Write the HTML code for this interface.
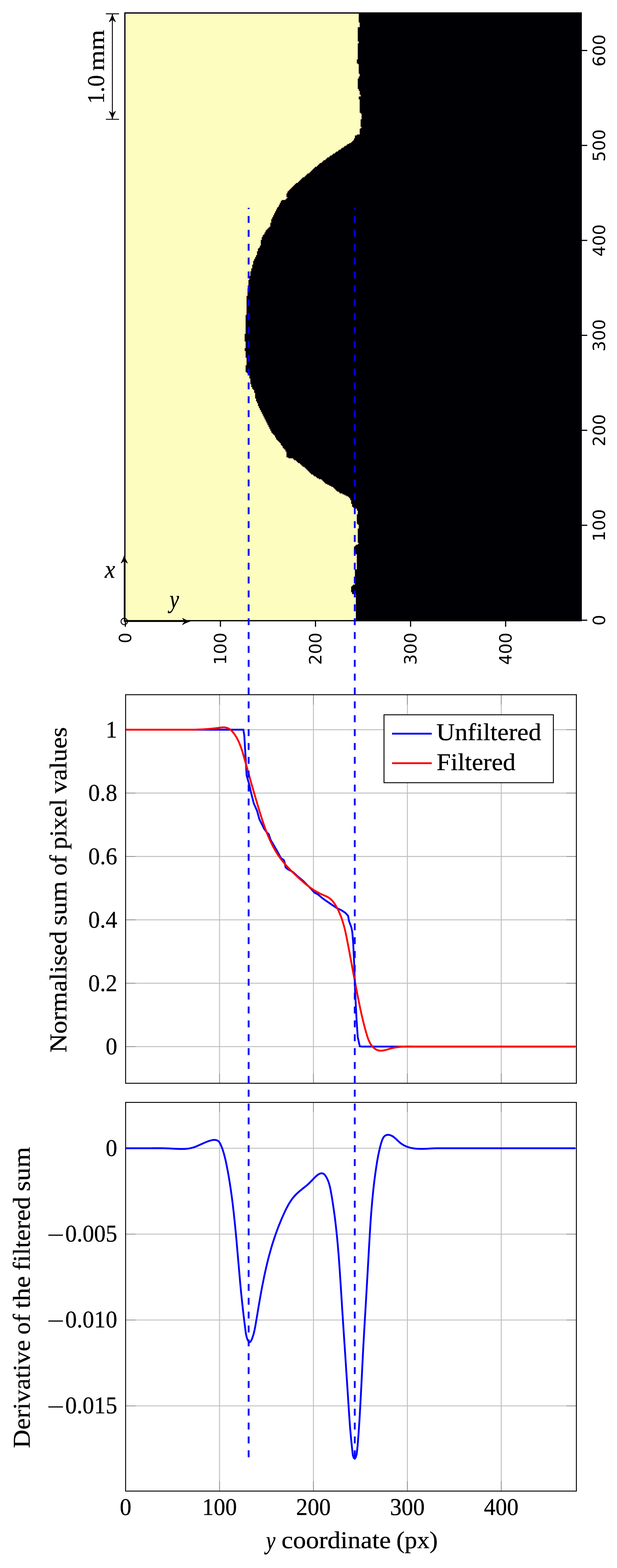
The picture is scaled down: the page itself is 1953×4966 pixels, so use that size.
<!DOCTYPE html>
<html lang="en"><head><meta charset="utf-8"><title>Figure</title>
<style>html,body{margin:0;padding:0;background:#fff}svg{display:block}.s{font-family:"Liberation Serif", serif;fill:#000;stroke:#000;stroke-width:0.55px;stroke-linejoin:round}.d{font-family:"DejaVu Sans", "Liberation Sans", sans-serif;fill:#000}</style></head><body>
<svg width="1953" height="4966" viewBox="0 0 1953 4966">
<rect width="1953" height="4966" fill="#fff"/>
<g id="image">
<rect x="395.3" y="41.1" width="1444.4" height="1924.7" fill="#fcfdbf"/>
<path d="M1839.7,41.1V41.1H1135.6V71.2H1138.6V86.2H1132.5V131.3H1135.6V137.3H1132.5V188.5H1129.5V200.5H1132.5V203.5H1135.6V233.6H1138.6V242.6H1135.6V248.6H1132.5V281.7H1135.6V287.7H1138.6V299.7H1141.6V305.7H1135.6V314.8H1138.6V356.9H1141.6V359.9H1144.6V377.9H1141.6V402.0H1144.6V405.0H1141.6V408.0H1138.6V426.0H1129.5V429.0H1123.5V438.1H1120.5V444.1H1117.5V447.1H1114.5V450.1H1111.5V453.1H1105.5V456.1H1099.4V459.1H1096.4V462.1H1090.4V465.1H1087.4V468.1H1081.4V471.2H1078.4V474.2H1072.4V477.2H1069.4V480.2H1063.3V483.2H1060.3V486.2H1054.3V489.2H1051.3V492.2H1045.3V495.2H1042.3V498.2H1036.3V501.2H1033.2V504.2H1030.2V507.2H1024.2V510.2H1021.2V513.3H1018.2V516.3H1012.2V519.3H1009.2V522.3H1006.2V525.3H1003.2V528.3H997.1V531.3H994.1V534.3H991.1V537.3H988.1V540.3H985.1V543.3H982.1V546.3H979.1V549.3H973.1V552.3H970.1V555.4H967.0V558.4H964.0V561.4H958.0V564.4H955.0V567.4H952.0V570.4H949.0V573.4H946.0V576.4H943.0V579.4H937.0V582.4H933.9V585.4H930.9V588.4H927.9V591.4H924.9V594.5H921.9V597.5H918.9V600.5H915.9V603.5H912.9V606.5H909.9V612.5H906.9V624.5H909.9V627.5H906.9V630.5H903.8V633.5H891.8V636.6H888.8V642.6H885.8V648.6H882.8V654.6H879.8V657.6H876.8V663.6H873.8V669.6H870.7V675.6H867.7V681.7H864.7V687.7H861.7V693.7H858.7V705.7H855.7V717.8H852.7V720.8H849.7V723.8H846.7V726.8H843.7V729.8H840.7V735.8H837.6V741.8H834.6V744.8H831.6V750.8H828.6V759.9H825.6V777.9H822.6V783.9H819.6V786.9H816.6V795.9H813.6V808.0H810.6V814.0H807.6V820.0H804.5V826.0H801.5V838.0H798.5V850.1H795.5V859.1H792.5V874.1H789.5V886.2H786.5V913.2H783.5V937.3H780.5V997.4H777.5V1057.6H774.5V1081.6H777.5V1102.7H774.5V1111.7H777.5V1132.8H780.5V1156.8H777.5V1177.9H780.5V1180.9H783.5V1183.9H786.5V1186.9H789.5V1198.9H792.5V1217.0H795.5V1226.0H798.5V1232.0H801.5V1235.0H804.5V1244.0H807.6V1262.1H810.6V1271.1H813.6V1277.1H816.6V1286.1H819.6V1292.2H822.6V1298.2H825.6V1304.2H828.6V1310.2H831.6V1316.2H834.6V1322.2H837.6V1328.2H840.7V1334.3H843.7V1340.3H846.7V1346.3H849.7V1352.3H852.7V1358.3H855.7V1364.3H858.7V1370.3H861.7V1373.4H864.7V1376.4H867.7V1379.4H870.7V1385.4H873.8V1391.4H876.8V1394.4H879.8V1397.4H882.8V1400.4H885.8V1403.4H888.8V1409.4H891.8V1412.4H894.8V1418.5H897.8V1421.5H900.8V1424.5H903.8V1430.5H906.9V1448.5H912.9V1451.5H927.9V1454.6H930.9V1457.6H937.0V1460.6H940.0V1463.6H943.0V1466.6H949.0V1469.6H952.0V1472.6H955.0V1475.6H958.0V1478.6H964.0V1481.6H967.0V1484.6H970.1V1487.6H973.1V1490.6H976.1V1493.6H979.1V1496.7H982.1V1499.7H985.1V1502.7H991.1V1505.7H994.1V1508.7H1000.1V1511.7H1003.2V1514.7H1009.2V1517.7H1018.2V1520.7H1021.2V1523.7H1024.2V1526.7H1027.2V1529.7H1030.2V1532.7H1036.3V1535.7H1042.3V1538.8H1048.3V1541.8H1054.3V1544.8H1057.3V1547.8H1060.3V1550.8H1063.3V1553.8H1066.3V1556.8H1072.4V1559.8H1075.4V1562.8H1084.4V1565.8H1090.4V1568.8H1096.4V1571.8H1102.5V1574.8H1105.5V1577.9H1108.5V1583.9H1111.5V1595.9H1114.5V1604.9H1117.5V1607.9H1123.5V1610.9H1129.5V1616.9H1132.5V1629.0H1129.5V1659.1H1132.5V1662.1H1135.6V1674.1H1132.5V1719.2H1135.6V1722.2H1132.5V1725.2H1126.5V1728.2H1123.5V1731.2H1120.5V1746.3H1123.5V1752.3H1126.5V1755.3H1129.5V1803.4H1123.5V1851.5H1117.5V1854.5H1114.5V1857.5H1111.5V1875.6H1114.5V1881.6H1126.5V1965.8H1839.7Z" fill="#000004" stroke="#b73779" stroke-width="0.7" stroke-opacity="0.55"/>
<rect x="395.3" y="41.1" width="1444.4" height="1924.7" fill="none" stroke="#000" stroke-width="4"/>
<line x1="396.8" y1="1965.8" x2="396.8" y2="1985.0" stroke="#000" stroke-width="3.7"/>
<text class="d" font-size="53.5" text-anchor="end" transform="translate(415.4,2003.5) rotate(-90)">0</text>
<line x1="697.7" y1="1965.8" x2="697.7" y2="1985.0" stroke="#000" stroke-width="3.7"/>
<text class="d" font-size="53.5" text-anchor="end" transform="translate(716.3,2003.5) rotate(-90)">100</text>
<line x1="998.6" y1="1965.8" x2="998.6" y2="1985.0" stroke="#000" stroke-width="3.7"/>
<text class="d" font-size="53.5" text-anchor="end" transform="translate(1017.2,2003.5) rotate(-90)">200</text>
<line x1="1299.6" y1="1965.8" x2="1299.6" y2="1985.0" stroke="#000" stroke-width="3.7"/>
<text class="d" font-size="53.5" text-anchor="end" transform="translate(1318.2,2003.5) rotate(-90)">300</text>
<line x1="1600.5" y1="1965.8" x2="1600.5" y2="1985.0" stroke="#000" stroke-width="3.7"/>
<text class="d" font-size="53.5" text-anchor="end" transform="translate(1619.1,2003.5) rotate(-90)">400</text>
<line x1="1839.7" y1="1964.3" x2="1858.9" y2="1964.3" stroke="#000" stroke-width="3.7"/>
<text class="d" font-size="53.5" text-anchor="middle" transform="translate(1915.0,1964.3) rotate(-90)">0</text>
<line x1="1839.7" y1="1663.6" x2="1858.9" y2="1663.6" stroke="#000" stroke-width="3.7"/>
<text class="d" font-size="53.5" text-anchor="middle" transform="translate(1915.0,1663.6) rotate(-90)">100</text>
<line x1="1839.7" y1="1362.8" x2="1858.9" y2="1362.8" stroke="#000" stroke-width="3.7"/>
<text class="d" font-size="53.5" text-anchor="middle" transform="translate(1915.0,1362.8) rotate(-90)">200</text>
<line x1="1839.7" y1="1062.1" x2="1858.9" y2="1062.1" stroke="#000" stroke-width="3.7"/>
<text class="d" font-size="53.5" text-anchor="middle" transform="translate(1915.0,1062.1) rotate(-90)">300</text>
<line x1="1839.7" y1="761.4" x2="1858.9" y2="761.4" stroke="#000" stroke-width="3.7"/>
<text class="d" font-size="53.5" text-anchor="middle" transform="translate(1915.0,761.4) rotate(-90)">400</text>
<line x1="1839.7" y1="460.6" x2="1858.9" y2="460.6" stroke="#000" stroke-width="3.7"/>
<text class="d" font-size="53.5" text-anchor="middle" transform="translate(1915.0,460.6) rotate(-90)">500</text>
<line x1="1839.7" y1="159.9" x2="1858.9" y2="159.9" stroke="#000" stroke-width="3.7"/>
<text class="d" font-size="53.5" text-anchor="middle" transform="translate(1915.0,159.9) rotate(-90)">600</text>
</g>
<g id="axes-arrows" stroke="#000" fill="none" stroke-width="2.9">
<line x1="393.3" y1="1968.2" x2="393.3" y2="1770"/>
<line x1="393.3" y1="1968.2" x2="590" y2="1968.2"/>
<circle cx="393.3" cy="1968.2" r="10.2"/>
</g>
<path transform="translate(393.3,1758.5) rotate(-90)" fill="#000" stroke="#000" stroke-width="2.40" stroke-linejoin="round" d="M-2.20,0.00 C-9.50,-1.90 -17.00,-5.20 -24.30,-9.50 Q-19.60,-4.80 -17.60,0.00 Q-19.60,4.80 -24.30,9.50 C-17.00,5.20 -9.50,1.90 -2.20,0.00Z"/>
<path transform="translate(602.5,1968.2) rotate(0)" fill="#000" stroke="#000" stroke-width="2.40" stroke-linejoin="round" d="M-2.20,0.00 C-9.50,-1.90 -17.00,-5.20 -24.30,-9.50 Q-19.60,-4.80 -17.60,0.00 Q-19.60,4.80 -24.30,9.50 C-17.00,5.20 -9.50,1.90 -2.20,0.00Z"/>
<text class="s" font-style="italic" font-size="80" x="331.8" y="1830" textLength="32.6" lengthAdjust="spacingAndGlyphs">x</text>
<text class="s" font-style="italic" font-size="80" x="536.7" y="1924.5" textLength="29.8" lengthAdjust="spacingAndGlyphs">y</text>
<g id="scalebar" stroke="#000" fill="none" stroke-width="2.9">
<line x1="335.1" y1="43.7" x2="376.8" y2="43.7"/>
<line x1="335.1" y1="377.9" x2="376.8" y2="377.9"/>
<line x1="355.7" y1="43.7" x2="355.7" y2="377.9"/>
</g>
<path transform="translate(355.7,44.3) rotate(-90)" fill="#000" stroke="#000" stroke-width="2.40" stroke-linejoin="round" d="M-2.20,0.00 C-9.50,-1.90 -17.00,-5.20 -24.30,-9.50 Q-19.60,-4.80 -17.60,0.00 Q-19.60,4.80 -24.30,9.50 C-17.00,5.20 -9.50,1.90 -2.20,0.00Z"/>
<path transform="translate(355.7,377.3) rotate(90)" fill="#000" stroke="#000" stroke-width="2.40" stroke-linejoin="round" d="M-2.20,0.00 C-9.50,-1.90 -17.00,-5.20 -24.30,-9.50 Q-19.60,-4.80 -17.60,0.00 Q-19.60,4.80 -24.30,9.50 C-17.00,5.20 -9.50,1.90 -2.20,0.00Z"/>
<text class="s" font-size="76.5" transform="translate(328.5,329) rotate(-90)"><tspan x="0" textLength="91.2" lengthAdjust="spacingAndGlyphs">1.0</tspan> <tspan x="104.4" font-size="72.5" textLength="130" lengthAdjust="spacingAndGlyphs">mm</tspan></text>
<g stroke-width="2.9">
<line x1="694.9" y1="2200.2" x2="694.9" y2="3430.8" stroke="#bfbfbf"/>
<line x1="992.1" y1="2200.2" x2="992.1" y2="3430.8" stroke="#bfbfbf"/>
<line x1="1289.4" y1="2200.2" x2="1289.4" y2="3430.8" stroke="#bfbfbf"/>
<line x1="1586.6" y1="2200.2" x2="1586.6" y2="3430.8" stroke="#bfbfbf"/>
<line x1="397.6" y1="2311.0" x2="1824.4" y2="2311.0" stroke="#bfbfbf"/>
<line x1="397.6" y1="2511.7" x2="1824.4" y2="2511.7" stroke="#bfbfbf"/>
<line x1="397.6" y1="2712.5" x2="1824.4" y2="2712.5" stroke="#bfbfbf"/>
<line x1="397.6" y1="2913.2" x2="1824.4" y2="2913.2" stroke="#bfbfbf"/>
<line x1="397.6" y1="3114.0" x2="1824.4" y2="3114.0" stroke="#bfbfbf"/>
<line x1="397.6" y1="3314.7" x2="1824.4" y2="3314.7" stroke="#bfbfbf"/>
<line x1="694.9" y1="3430.8" x2="694.9" y2="3399.6000000000004" stroke="#808080" stroke-width="1.7"/>
<line x1="694.9" y1="2200.2" x2="694.9" y2="2231.3999999999996" stroke="#808080" stroke-width="1.7"/>
<line x1="992.1" y1="3430.8" x2="992.1" y2="3399.6000000000004" stroke="#808080" stroke-width="1.7"/>
<line x1="992.1" y1="2200.2" x2="992.1" y2="2231.3999999999996" stroke="#808080" stroke-width="1.7"/>
<line x1="1289.4" y1="3430.8" x2="1289.4" y2="3399.6000000000004" stroke="#808080" stroke-width="1.7"/>
<line x1="1289.4" y1="2200.2" x2="1289.4" y2="2231.3999999999996" stroke="#808080" stroke-width="1.7"/>
<line x1="1586.6" y1="3430.8" x2="1586.6" y2="3399.6000000000004" stroke="#808080" stroke-width="1.7"/>
<line x1="1586.6" y1="2200.2" x2="1586.6" y2="2231.3999999999996" stroke="#808080" stroke-width="1.7"/>
<line x1="397.6" y1="2311.0" x2="428.8" y2="2311.0" stroke="#808080" stroke-width="1.7"/>
<line x1="1824.4" y1="2311.0" x2="1793.2" y2="2311.0" stroke="#808080" stroke-width="1.7"/>
<line x1="397.6" y1="2511.7" x2="428.8" y2="2511.7" stroke="#808080" stroke-width="1.7"/>
<line x1="1824.4" y1="2511.7" x2="1793.2" y2="2511.7" stroke="#808080" stroke-width="1.7"/>
<line x1="397.6" y1="2712.5" x2="428.8" y2="2712.5" stroke="#808080" stroke-width="1.7"/>
<line x1="1824.4" y1="2712.5" x2="1793.2" y2="2712.5" stroke="#808080" stroke-width="1.7"/>
<line x1="397.6" y1="2913.2" x2="428.8" y2="2913.2" stroke="#808080" stroke-width="1.7"/>
<line x1="1824.4" y1="2913.2" x2="1793.2" y2="2913.2" stroke="#808080" stroke-width="1.7"/>
<line x1="397.6" y1="3114.0" x2="428.8" y2="3114.0" stroke="#808080" stroke-width="1.7"/>
<line x1="1824.4" y1="3114.0" x2="1793.2" y2="3114.0" stroke="#808080" stroke-width="1.7"/>
<line x1="397.6" y1="3314.7" x2="428.8" y2="3314.7" stroke="#808080" stroke-width="1.7"/>
<line x1="1824.4" y1="3314.7" x2="1793.2" y2="3314.7" stroke="#808080" stroke-width="1.7"/>
</g>
<path d="M397.5,2311.0 L770.3,2311.0 L773.2,2328.5 L777.7,2404.0 L780.6,2455.8 L789.5,2487.0 L794.0,2507.6 L803.3,2544.4 L813.7,2568.0 L821.0,2594.8 L835.9,2624.4 L844.2,2636.0 L850.7,2642.0 L856.6,2660.0 L877.3,2695.4 L889.2,2717.6 L898.0,2723.6 L901.0,2731.0 L904.0,2747.0 L911.4,2753.0 L927.7,2762.0 L945.4,2778.3 L959.6,2790.0 L983.3,2813.7 L995.0,2827.0 L1007.0,2833.0 L1018.8,2843.3 L1030.7,2852.0 L1048.4,2864.0 L1066.2,2875.9 L1081.0,2883.0 L1092.9,2890.7 L1101.8,2900.4 L1104.7,2917.0 L1112.0,2936.6 L1115.0,2951.0 L1118.0,2987.0 L1121.0,3050.0 L1124.0,3138.8 L1128.5,3227.7 L1132.3,3284.0 L1138.8,3313.7 L1145.0,3314.7 L1821.5,3314.7" fill="none" stroke="#0000ff" stroke-width="5.8" stroke-linejoin="miter" stroke-miterlimit="10"/>
<path d="M397.6,2311.0 L400.6,2311.0 L403.5,2311.0 L406.5,2311.0 L409.5,2311.0 L412.5,2311.0 L415.4,2311.0 L418.4,2311.0 L421.4,2311.0 L424.4,2311.0 L427.3,2311.0 L430.3,2311.0 L433.3,2311.0 L436.2,2311.0 L439.2,2311.0 L442.2,2311.0 L445.2,2311.0 L448.1,2311.0 L451.1,2311.0 L454.1,2311.0 L457.1,2311.0 L460.0,2311.0 L463.0,2311.0 L466.0,2311.0 L468.9,2311.0 L471.9,2311.0 L474.9,2311.0 L477.9,2311.0 L480.8,2311.0 L483.8,2311.0 L486.8,2311.0 L489.7,2311.0 L492.7,2311.0 L495.7,2311.0 L498.7,2311.0 L501.6,2311.0 L504.6,2311.0 L507.6,2311.0 L510.6,2311.0 L513.5,2311.0 L516.5,2311.0 L519.5,2311.0 L522.4,2311.0 L525.4,2311.0 L528.4,2311.0 L531.4,2311.0 L534.3,2311.0 L537.3,2311.0 L540.3,2311.0 L543.3,2311.0 L546.2,2311.0 L549.2,2311.0 L552.2,2311.0 L555.1,2311.0 L558.1,2311.0 L561.1,2311.0 L564.1,2311.0 L567.0,2311.0 L570.0,2311.0 L573.0,2311.0 L576.0,2311.0 L578.9,2311.0 L581.9,2311.0 L584.9,2311.0 L587.8,2311.0 L590.8,2311.0 L593.8,2311.0 L596.8,2311.0 L599.7,2311.0 L602.7,2311.0 L605.7,2311.0 L608.6,2310.9 L611.6,2310.9 L614.6,2310.8 L617.6,2310.8 L620.5,2310.7 L623.5,2310.6 L626.5,2310.5 L629.5,2310.4 L632.4,2310.2 L635.4,2310.1 L638.4,2310.0 L641.3,2309.8 L644.3,2309.7 L647.3,2309.5 L650.3,2309.3 L653.2,2309.1 L656.2,2308.9 L659.2,2308.7 L662.2,2308.5 L665.1,2308.2 L668.1,2307.9 L671.1,2307.6 L674.0,2307.3 L677.0,2307.0 L680.0,2306.7 L683.0,2306.3 L685.9,2305.9 L688.9,2305.6 L691.9,2305.1 L694.9,2304.7 L697.8,2304.3 L700.8,2304.0 L703.8,2303.8 L706.7,2303.6 L709.7,2303.7 L712.7,2303.9 L715.7,2304.5 L718.6,2305.2 L721.6,2306.4 L724.6,2307.8 L727.5,2309.6 L730.5,2311.9 L733.5,2314.7 L736.5,2317.9 L739.4,2321.6 L742.4,2325.7 L745.4,2330.2 L748.4,2335.0 L751.3,2340.4 L754.3,2346.3 L757.3,2352.8 L760.2,2360.1 L763.2,2368.1 L766.2,2377.0 L769.2,2386.7 L772.1,2397.1 L775.1,2407.7 L778.1,2418.4 L781.1,2429.1 L784.0,2439.8 L787.0,2450.4 L790.0,2461.0 L792.9,2471.5 L795.9,2482.1 L798.9,2492.5 L801.9,2502.9 L804.8,2513.2 L807.8,2523.4 L810.8,2533.5 L813.8,2543.5 L816.7,2553.5 L819.7,2563.3 L822.7,2573.0 L825.6,2582.6 L828.6,2591.9 L831.6,2601.1 L834.6,2609.9 L837.5,2618.4 L840.5,2626.7 L843.5,2634.5 L846.4,2642.1 L849.4,2649.3 L852.4,2656.2 L855.4,2662.8 L858.3,2669.1 L861.3,2675.2 L864.3,2680.9 L867.3,2686.5 L870.2,2691.7 L873.2,2696.8 L876.2,2701.6 L879.1,2706.3 L882.1,2710.7 L885.1,2715.0 L888.1,2719.1 L891.0,2723.0 L894.0,2726.8 L897.0,2730.5 L900.0,2734.0 L902.9,2737.5 L905.9,2740.9 L908.9,2744.2 L911.8,2747.4 L914.8,2750.5 L917.8,2753.6 L920.8,2756.7 L923.7,2759.7 L926.7,2762.6 L929.7,2765.5 L932.7,2768.4 L935.6,2771.2 L938.6,2774.0 L941.6,2776.8 L944.5,2779.6 L947.5,2782.3 L950.5,2785.0 L953.5,2787.7 L956.4,2790.4 L959.4,2793.0 L962.4,2795.5 L965.3,2798.0 L968.3,2800.5 L971.3,2802.9 L974.3,2805.3 L977.2,2807.5 L980.2,2809.8 L983.2,2811.9 L986.2,2814.1 L989.1,2816.1 L992.1,2818.1 L995.1,2820.0 L998.0,2821.8 L1001.0,2823.6 L1004.0,2825.3 L1007.0,2826.9 L1009.9,2828.5 L1012.9,2830.0 L1015.9,2831.4 L1018.9,2832.7 L1021.8,2834.0 L1024.8,2835.3 L1027.8,2836.6 L1030.7,2837.9 L1033.7,2839.3 L1036.7,2840.8 L1039.7,2842.5 L1042.6,2844.5 L1045.6,2846.8 L1048.6,2849.5 L1051.6,2852.5 L1054.5,2856.0 L1057.5,2859.9 L1060.5,2864.3 L1063.4,2869.2 L1066.4,2874.5 L1069.4,2880.1 L1072.4,2886.3 L1075.3,2893.0 L1078.3,2900.3 L1081.3,2908.3 L1084.2,2917.2 L1087.2,2927.0 L1090.2,2938.1 L1093.2,2950.4 L1096.1,2964.1 L1099.1,2979.0 L1102.1,2994.6 L1105.1,3010.4 L1108.0,3026.3 L1111.0,3042.2 L1114.0,3058.1 L1116.9,3073.9 L1119.9,3089.8 L1122.9,3105.5 L1125.9,3121.1 L1128.8,3136.7 L1131.8,3152.0 L1134.8,3167.1 L1137.8,3181.8 L1140.7,3196.0 L1143.7,3209.6 L1146.7,3222.6 L1149.6,3235.0 L1152.6,3246.8 L1155.6,3258.1 L1158.6,3268.8 L1161.5,3279.0 L1164.5,3288.1 L1167.5,3295.7 L1170.5,3302.0 L1173.4,3307.1 L1176.4,3311.4 L1179.4,3314.9 L1182.3,3317.9 L1185.3,3320.4 L1188.3,3322.5 L1191.3,3324.2 L1194.2,3325.6 L1197.2,3326.6 L1200.2,3327.3 L1203.1,3327.6 L1206.1,3327.7 L1209.1,3327.5 L1212.1,3327.1 L1215.0,3326.6 L1218.0,3326.0 L1221.0,3325.2 L1224.0,3324.4 L1226.9,3323.5 L1229.9,3322.7 L1232.9,3321.8 L1235.8,3321.0 L1238.8,3320.2 L1241.8,3319.5 L1244.8,3318.8 L1247.7,3318.2 L1250.7,3317.7 L1253.7,3317.2 L1256.7,3316.7 L1259.6,3316.3 L1262.6,3316.0 L1265.6,3315.6 L1268.5,3315.4 L1271.5,3315.2 L1274.5,3315.0 L1277.5,3314.8 L1280.4,3314.7 L1283.4,3314.6 L1286.4,3314.5 L1289.4,3314.5 L1292.3,3314.5 L1295.3,3314.5 L1298.3,3314.5 L1301.2,3314.5 L1304.2,3314.6 L1307.2,3314.6 L1310.2,3314.6 L1313.1,3314.6 L1316.1,3314.7 L1319.1,3314.7 L1322.0,3314.7 L1325.0,3314.7 L1328.0,3314.7 L1331.0,3314.7 L1333.9,3314.7 L1336.9,3314.7 L1339.9,3314.7 L1342.9,3314.7 L1345.8,3314.7 L1348.8,3314.7 L1351.8,3314.7 L1354.7,3314.7 L1357.7,3314.7 L1360.7,3314.7 L1363.7,3314.7 L1366.6,3314.7 L1369.6,3314.7 L1372.6,3314.7 L1375.6,3314.7 L1378.5,3314.7 L1381.5,3314.7 L1384.5,3314.7 L1387.4,3314.7 L1390.4,3314.7 L1393.4,3314.7 L1396.4,3314.7 L1399.3,3314.7 L1402.3,3314.7 L1405.3,3314.7 L1408.2,3314.7 L1411.2,3314.7 L1414.2,3314.7 L1417.2,3314.7 L1420.1,3314.7 L1423.1,3314.7 L1426.1,3314.7 L1429.1,3314.7 L1432.0,3314.7 L1435.0,3314.7 L1438.0,3314.7 L1440.9,3314.7 L1443.9,3314.7 L1446.9,3314.7 L1449.9,3314.7 L1452.8,3314.7 L1455.8,3314.7 L1458.8,3314.7 L1461.8,3314.7 L1464.7,3314.7 L1467.7,3314.7 L1470.7,3314.7 L1473.6,3314.7 L1476.6,3314.7 L1479.6,3314.7 L1482.6,3314.7 L1485.5,3314.7 L1488.5,3314.7 L1491.5,3314.7 L1494.5,3314.7 L1497.4,3314.7 L1500.4,3314.7 L1503.4,3314.7 L1506.3,3314.7 L1509.3,3314.7 L1512.3,3314.7 L1515.3,3314.7 L1518.2,3314.7 L1521.2,3314.7 L1524.2,3314.7 L1527.2,3314.7 L1530.1,3314.7 L1533.1,3314.7 L1536.1,3314.7 L1539.0,3314.7 L1542.0,3314.7 L1545.0,3314.7 L1548.0,3314.7 L1550.9,3314.7 L1553.9,3314.7 L1556.9,3314.7 L1559.8,3314.7 L1562.8,3314.7 L1565.8,3314.7 L1568.8,3314.7 L1571.7,3314.7 L1574.7,3314.7 L1577.7,3314.7 L1580.7,3314.7 L1583.6,3314.7 L1586.6,3314.7 L1589.6,3314.7 L1592.5,3314.7 L1595.5,3314.7 L1598.5,3314.7 L1601.5,3314.7 L1604.4,3314.7 L1607.4,3314.7 L1610.4,3314.7 L1613.4,3314.7 L1616.3,3314.7 L1619.3,3314.7 L1622.3,3314.7 L1625.2,3314.7 L1628.2,3314.7 L1631.2,3314.7 L1634.2,3314.7 L1637.1,3314.7 L1640.1,3314.7 L1643.1,3314.7 L1646.1,3314.7 L1649.0,3314.7 L1652.0,3314.7 L1655.0,3314.7 L1657.9,3314.7 L1660.9,3314.7 L1663.9,3314.7 L1666.9,3314.7 L1669.8,3314.7 L1672.8,3314.7 L1675.8,3314.7 L1678.7,3314.7 L1681.7,3314.7 L1684.7,3314.7 L1687.7,3314.7 L1690.6,3314.7 L1693.6,3314.7 L1696.6,3314.7 L1699.6,3314.7 L1702.5,3314.7 L1705.5,3314.7 L1708.5,3314.7 L1711.4,3314.7 L1714.4,3314.7 L1717.4,3314.7 L1720.4,3314.7 L1723.3,3314.7 L1726.3,3314.7 L1729.3,3314.7 L1732.3,3314.7 L1735.2,3314.7 L1738.2,3314.7 L1741.2,3314.7 L1744.1,3314.7 L1747.1,3314.7 L1750.1,3314.7 L1753.1,3314.7 L1756.0,3314.7 L1759.0,3314.7 L1762.0,3314.7 L1765.0,3314.7 L1767.9,3314.7 L1770.9,3314.7 L1773.9,3314.7 L1776.8,3314.7 L1779.8,3314.7 L1782.8,3314.7 L1785.8,3314.7 L1788.7,3314.7 L1791.7,3314.7 L1794.7,3314.7 L1797.6,3314.7 L1800.6,3314.7 L1803.6,3314.7 L1806.6,3314.7 L1809.5,3314.7 L1812.5,3314.7 L1815.5,3314.7 L1818.5,3314.7 L1821.4,3314.7" fill="none" stroke="#ff0000" stroke-width="5.8" stroke-linejoin="miter" stroke-miterlimit="10"/>
<rect x="397.6" y="2200.2" width="1426.8" height="1230.6" fill="none" stroke="#000" stroke-width="2.9"/>
<text class="s" font-size="76.5" x="334.4" y="2335.7" textLength="36.6" lengthAdjust="spacingAndGlyphs">1</text>
<text class="s" font-size="76.5" x="279.6" y="2536.4" textLength="91.4" lengthAdjust="spacingAndGlyphs">0.8</text>
<text class="s" font-size="76.5" x="279.6" y="2737.2" textLength="91.4" lengthAdjust="spacingAndGlyphs">0.6</text>
<text class="s" font-size="76.5" x="279.6" y="2937.9" textLength="91.4" lengthAdjust="spacingAndGlyphs">0.4</text>
<text class="s" font-size="76.5" x="279.6" y="3138.7" textLength="91.4" lengthAdjust="spacingAndGlyphs">0.2</text>
<text class="s" font-size="76.5" x="334.4" y="3339.4" textLength="36.6" lengthAdjust="spacingAndGlyphs">0</text>
<text class="s" font-size="77" transform="translate(209.6,3333.1) rotate(-90)"><tspan x="-0.5" y="0" textLength="385.1" lengthAdjust="spacingAndGlyphs">Normalised</tspan> <tspan x="401.9" y="0" textLength="140.7" lengthAdjust="spacingAndGlyphs">sum</tspan> <tspan x="559.9" y="0" textLength="65.3" lengthAdjust="spacingAndGlyphs">of</tspan> <tspan x="642.5" y="0" textLength="160.3" lengthAdjust="spacingAndGlyphs">pixel</tspan> <tspan x="820.1" y="0" textLength="210.4" lengthAdjust="spacingAndGlyphs">values</tspan></text>
<rect x="1215.5" y="2263.8" width="536.1" height="215.1" fill="#fff" stroke="#000" stroke-width="2.9"/>
<line x1="1241" y1="2323.6" x2="1366.6" y2="2323.6" stroke="#0000ff" stroke-width="5.8"/>
<line x1="1241" y1="2417.2" x2="1366.6" y2="2417.2" stroke="#ff0000" stroke-width="5.8"/>
<text class="s" font-size="77" x="1381.3" y="2343.9" textLength="332" lengthAdjust="spacingAndGlyphs">Unfiltered</text>
<text class="s" font-size="77" x="1382" y="2438.7" textLength="250" lengthAdjust="spacingAndGlyphs">Filtered</text>
<g stroke-width="2.9">
<line x1="694.9" y1="3491.4" x2="694.9" y2="4722.4" stroke="#bfbfbf"/>
<line x1="992.1" y1="3491.4" x2="992.1" y2="4722.4" stroke="#bfbfbf"/>
<line x1="1289.4" y1="3491.4" x2="1289.4" y2="4722.4" stroke="#bfbfbf"/>
<line x1="1586.6" y1="3491.4" x2="1586.6" y2="4722.4" stroke="#bfbfbf"/>
<line x1="397.6" y1="3636.6" x2="1824.4" y2="3636.6" stroke="#bfbfbf"/>
<line x1="397.6" y1="3908.6" x2="1824.4" y2="3908.6" stroke="#bfbfbf"/>
<line x1="397.6" y1="4180.6" x2="1824.4" y2="4180.6" stroke="#bfbfbf"/>
<line x1="397.6" y1="4452.6" x2="1824.4" y2="4452.6" stroke="#bfbfbf"/>
<line x1="694.9" y1="4722.4" x2="694.9" y2="4691.2" stroke="#808080" stroke-width="1.7"/>
<line x1="694.9" y1="3491.4" x2="694.9" y2="3522.6" stroke="#808080" stroke-width="1.7"/>
<line x1="992.1" y1="4722.4" x2="992.1" y2="4691.2" stroke="#808080" stroke-width="1.7"/>
<line x1="992.1" y1="3491.4" x2="992.1" y2="3522.6" stroke="#808080" stroke-width="1.7"/>
<line x1="1289.4" y1="4722.4" x2="1289.4" y2="4691.2" stroke="#808080" stroke-width="1.7"/>
<line x1="1289.4" y1="3491.4" x2="1289.4" y2="3522.6" stroke="#808080" stroke-width="1.7"/>
<line x1="1586.6" y1="4722.4" x2="1586.6" y2="4691.2" stroke="#808080" stroke-width="1.7"/>
<line x1="1586.6" y1="3491.4" x2="1586.6" y2="3522.6" stroke="#808080" stroke-width="1.7"/>
<line x1="397.6" y1="3636.6" x2="428.8" y2="3636.6" stroke="#808080" stroke-width="1.7"/>
<line x1="1824.4" y1="3636.6" x2="1793.2" y2="3636.6" stroke="#808080" stroke-width="1.7"/>
<line x1="397.6" y1="3908.6" x2="428.8" y2="3908.6" stroke="#808080" stroke-width="1.7"/>
<line x1="1824.4" y1="3908.6" x2="1793.2" y2="3908.6" stroke="#808080" stroke-width="1.7"/>
<line x1="397.6" y1="4180.6" x2="428.8" y2="4180.6" stroke="#808080" stroke-width="1.7"/>
<line x1="1824.4" y1="4180.6" x2="1793.2" y2="4180.6" stroke="#808080" stroke-width="1.7"/>
<line x1="397.6" y1="4452.6" x2="428.8" y2="4452.6" stroke="#808080" stroke-width="1.7"/>
<line x1="1824.4" y1="4452.6" x2="1793.2" y2="4452.6" stroke="#808080" stroke-width="1.7"/>
</g>
<path d="M397.6,3636.6 L400.6,3636.6 L403.5,3636.6 L406.5,3636.6 L409.5,3636.6 L412.5,3636.6 L415.4,3636.6 L418.4,3636.6 L421.4,3636.6 L424.4,3636.6 L427.3,3636.6 L430.3,3636.6 L433.3,3636.6 L436.2,3636.6 L439.2,3636.6 L442.2,3636.6 L445.2,3636.6 L448.1,3636.6 L451.1,3636.6 L454.1,3636.6 L457.1,3636.6 L460.0,3636.6 L463.0,3636.6 L466.0,3636.6 L468.9,3636.6 L471.9,3636.6 L474.9,3636.6 L477.9,3636.6 L480.8,3636.6 L483.8,3636.5 L486.8,3636.5 L489.7,3636.5 L492.7,3636.5 L495.7,3636.5 L498.7,3636.5 L501.6,3636.5 L504.6,3636.5 L507.6,3636.5 L510.6,3636.5 L513.5,3636.6 L516.5,3636.7 L519.5,3636.7 L522.4,3636.8 L525.4,3636.9 L528.4,3637.0 L531.4,3637.1 L534.3,3637.2 L537.3,3637.3 L540.3,3637.5 L543.3,3637.6 L546.2,3637.8 L549.2,3638.0 L552.2,3638.1 L555.1,3638.3 L558.1,3638.5 L561.1,3638.6 L564.1,3638.7 L567.0,3638.8 L570.0,3638.9 L573.0,3638.9 L576.0,3638.9 L578.9,3638.9 L581.9,3638.8 L584.9,3638.7 L587.8,3638.5 L590.8,3638.2 L593.8,3637.9 L596.8,3637.5 L599.7,3637.0 L602.7,3636.5 L605.7,3635.8 L608.6,3635.0 L611.6,3634.2 L614.6,3633.2 L617.6,3632.1 L620.5,3631.0 L623.5,3629.8 L626.5,3628.5 L629.5,3627.2 L632.4,3625.9 L635.4,3624.5 L638.4,3623.1 L641.3,3621.8 L644.3,3620.4 L647.3,3619.1 L650.3,3617.9 L653.2,3616.6 L656.2,3615.5 L659.2,3614.4 L662.2,3613.4 L665.1,3612.5 L668.1,3611.7 L671.1,3611.0 L674.0,3610.5 L677.0,3610.2 L680.0,3610.2 L683.0,3610.5 L685.9,3611.2 L688.9,3612.5 L691.9,3614.7 L694.9,3618.3 L697.8,3623.5 L700.8,3630.3 L703.8,3638.2 L706.7,3647.1 L709.7,3657.2 L712.7,3669.0 L715.7,3682.4 L718.6,3697.0 L721.6,3712.7 L724.6,3729.5 L727.5,3747.8 L730.5,3767.5 L733.5,3789.0 L736.5,3812.3 L739.4,3837.7 L742.4,3865.2 L745.4,3894.9 L748.4,3926.7 L751.3,3960.3 L754.3,3994.7 L757.3,4029.0 L760.2,4062.2 L763.2,4093.6 L766.2,4122.8 L769.2,4149.8 L772.1,4175.0 L775.1,4199.0 L778.1,4222.3 L781.1,4236.2 L784.0,4244.0 L787.0,4249.0 L790.0,4250.9 L792.9,4249.1 L795.9,4244.3 L798.9,4237.0 L801.9,4228.0 L804.8,4216.8 L807.8,4202.2 L810.8,4184.6 L813.8,4166.8 L816.7,4148.9 L819.7,4131.3 L822.7,4114.1 L825.6,4097.4 L828.6,4081.2 L831.6,4065.7 L834.6,4050.8 L837.5,4036.6 L840.5,4023.0 L843.5,4010.0 L846.4,3997.6 L849.4,3985.7 L852.4,3974.4 L855.4,3963.6 L858.3,3953.2 L861.3,3943.2 L864.3,3933.7 L867.3,3924.5 L870.2,3915.6 L873.2,3907.1 L876.2,3898.8 L879.1,3890.8 L882.1,3883.1 L885.1,3875.6 L888.1,3868.3 L891.0,3861.2 L894.0,3854.3 L897.0,3847.6 L900.0,3841.1 L902.9,3834.8 L905.9,3828.7 L908.9,3822.9 L911.8,3817.4 L914.8,3812.2 L917.8,3807.3 L920.8,3802.8 L923.7,3798.5 L926.7,3794.6 L929.7,3790.9 L932.7,3787.5 L935.6,3784.3 L938.6,3781.3 L941.6,3778.5 L944.5,3775.9 L947.5,3773.3 L950.5,3770.8 L953.5,3768.4 L956.4,3766.0 L959.4,3763.6 L962.4,3761.2 L965.3,3758.8 L968.3,3756.4 L971.3,3753.9 L974.3,3751.3 L977.2,3748.6 L980.2,3745.8 L983.2,3742.8 L986.2,3739.7 L989.1,3736.6 L992.1,3733.4 L995.1,3730.4 L998.0,3727.5 L1001.0,3724.7 L1004.0,3722.2 L1007.0,3720.0 L1009.9,3718.3 L1012.9,3717.0 L1015.9,3716.2 L1018.9,3715.9 L1021.8,3716.5 L1024.8,3718.0 L1027.8,3720.6 L1030.7,3724.5 L1033.7,3729.4 L1036.7,3735.4 L1039.7,3742.7 L1042.6,3752.0 L1045.6,3764.4 L1048.6,3780.6 L1051.6,3798.5 L1054.5,3817.5 L1057.5,3838.0 L1060.5,3860.5 L1063.4,3885.5 L1066.4,3913.6 L1069.4,3945.4 L1072.4,3981.7 L1075.3,4022.9 L1078.3,4068.4 L1081.3,4115.7 L1084.2,4162.1 L1087.2,4207.7 L1090.2,4252.7 L1093.2,4297.5 L1096.1,4342.3 L1099.1,4387.4 L1102.1,4433.1 L1105.1,4479.2 L1108.0,4520.5 L1111.0,4553.6 L1114.0,4583.2 L1116.9,4609.3 L1119.9,4617.7 L1122.9,4619.7 L1125.9,4615.7 L1128.8,4606.4 L1131.8,4580.7 L1134.8,4542.4 L1137.8,4498.3 L1140.7,4447.4 L1143.7,4390.0 L1146.7,4329.8 L1149.6,4272.2 L1152.6,4218.7 L1155.6,4167.3 L1158.6,4116.9 L1161.5,4066.4 L1164.5,4014.7 L1167.5,3960.9 L1170.5,3908.9 L1173.4,3863.0 L1176.4,3824.0 L1179.4,3790.8 L1182.3,3762.0 L1185.3,3736.8 L1188.3,3714.3 L1191.3,3694.0 L1194.2,3675.6 L1197.2,3659.4 L1200.2,3645.3 L1203.1,3632.8 L1206.1,3621.6 L1209.1,3612.1 L1212.1,3605.2 L1215.0,3600.5 L1218.0,3597.5 L1221.0,3595.6 L1224.0,3594.6 L1226.9,3594.2 L1229.9,3594.2 L1232.9,3594.6 L1235.8,3595.4 L1238.8,3596.6 L1241.8,3598.1 L1244.8,3600.0 L1247.7,3602.2 L1250.7,3604.7 L1253.7,3607.4 L1256.7,3610.3 L1259.6,3613.1 L1262.6,3615.9 L1265.6,3618.5 L1268.5,3620.9 L1271.5,3623.0 L1274.5,3624.9 L1277.5,3626.7 L1280.4,3628.3 L1283.4,3629.7 L1286.4,3631.0 L1289.4,3632.1 L1292.3,3633.1 L1295.3,3634.0 L1298.3,3634.8 L1301.2,3635.5 L1304.2,3636.1 L1307.2,3636.7 L1310.2,3637.1 L1313.1,3637.5 L1316.1,3637.8 L1319.1,3638.1 L1322.0,3638.3 L1325.0,3638.4 L1328.0,3638.5 L1331.0,3638.6 L1333.9,3638.6 L1336.9,3638.6 L1339.9,3638.6 L1342.9,3638.5 L1345.8,3638.4 L1348.8,3638.3 L1351.8,3638.1 L1354.7,3637.9 L1357.7,3637.7 L1360.7,3637.5 L1363.7,3637.3 L1366.6,3637.1 L1369.6,3637.0 L1372.6,3636.9 L1375.6,3636.8 L1378.5,3636.7 L1381.5,3636.7 L1384.5,3636.6 L1387.4,3636.6 L1390.4,3636.6 L1393.4,3636.6 L1396.4,3636.6 L1399.3,3636.6 L1402.3,3636.6 L1405.3,3636.6 L1408.2,3636.6 L1411.2,3636.6 L1414.2,3636.6 L1417.2,3636.6 L1420.1,3636.6 L1423.1,3636.6 L1426.1,3636.6 L1429.1,3636.6 L1432.0,3636.6 L1435.0,3636.6 L1438.0,3636.6 L1440.9,3636.6 L1443.9,3636.6 L1446.9,3636.6 L1449.9,3636.6 L1452.8,3636.6 L1455.8,3636.6 L1458.8,3636.6 L1461.8,3636.6 L1464.7,3636.6 L1467.7,3636.6 L1470.7,3636.6 L1473.6,3636.6 L1476.6,3636.6 L1479.6,3636.6 L1482.6,3636.6 L1485.5,3636.6 L1488.5,3636.6 L1491.5,3636.6 L1494.5,3636.6 L1497.4,3636.6 L1500.4,3636.6 L1503.4,3636.6 L1506.3,3636.6 L1509.3,3636.6 L1512.3,3636.6 L1515.3,3636.6 L1518.2,3636.6 L1521.2,3636.6 L1524.2,3636.6 L1527.2,3636.6 L1530.1,3636.6 L1533.1,3636.6 L1536.1,3636.6 L1539.0,3636.6 L1542.0,3636.6 L1545.0,3636.6 L1548.0,3636.6 L1550.9,3636.6 L1553.9,3636.6 L1556.9,3636.6 L1559.8,3636.6 L1562.8,3636.6 L1565.8,3636.6 L1568.8,3636.6 L1571.7,3636.6 L1574.7,3636.6 L1577.7,3636.6 L1580.7,3636.6 L1583.6,3636.6 L1586.6,3636.6 L1589.6,3636.6 L1592.5,3636.6 L1595.5,3636.6 L1598.5,3636.6 L1601.5,3636.6 L1604.4,3636.6 L1607.4,3636.6 L1610.4,3636.6 L1613.4,3636.6 L1616.3,3636.6 L1619.3,3636.6 L1622.3,3636.6 L1625.2,3636.6 L1628.2,3636.6 L1631.2,3636.6 L1634.2,3636.6 L1637.1,3636.6 L1640.1,3636.6 L1643.1,3636.6 L1646.1,3636.6 L1649.0,3636.6 L1652.0,3636.6 L1655.0,3636.6 L1657.9,3636.6 L1660.9,3636.6 L1663.9,3636.6 L1666.9,3636.6 L1669.8,3636.6 L1672.8,3636.6 L1675.8,3636.6 L1678.7,3636.6 L1681.7,3636.6 L1684.7,3636.6 L1687.7,3636.6 L1690.6,3636.6 L1693.6,3636.6 L1696.6,3636.6 L1699.6,3636.6 L1702.5,3636.6 L1705.5,3636.6 L1708.5,3636.6 L1711.4,3636.6 L1714.4,3636.6 L1717.4,3636.6 L1720.4,3636.6 L1723.3,3636.6 L1726.3,3636.6 L1729.3,3636.6 L1732.3,3636.6 L1735.2,3636.6 L1738.2,3636.6 L1741.2,3636.6 L1744.1,3636.6 L1747.1,3636.6 L1750.1,3636.6 L1753.1,3636.6 L1756.0,3636.6 L1759.0,3636.6 L1762.0,3636.6 L1765.0,3636.6 L1767.9,3636.6 L1770.9,3636.6 L1773.9,3636.6 L1776.8,3636.6 L1779.8,3636.6 L1782.8,3636.6 L1785.8,3636.6 L1788.7,3636.6 L1791.7,3636.6 L1794.7,3636.6 L1797.6,3636.6 L1800.6,3636.6 L1803.6,3636.6 L1806.6,3636.6 L1809.5,3636.6 L1812.5,3636.6 L1815.5,3636.6 L1818.5,3636.6 L1821.4,3636.6" fill="none" stroke="#0000ff" stroke-width="5.8" stroke-linejoin="miter" stroke-miterlimit="10"/>
<rect x="397.6" y="3491.4" width="1426.8" height="1231.0" fill="none" stroke="#000" stroke-width="2.9"/>
<text class="s" font-size="76.5" x="334.4" y="3661.3" textLength="36.6" lengthAdjust="spacingAndGlyphs">0</text>
<text class="s" font-size="76.5"><tspan x="147.9" y="3936.8" textLength="56" stroke-width="0" lengthAdjust="spacingAndGlyphs">−</tspan><tspan x="206.4" y="3931.6" textLength="164.6" lengthAdjust="spacingAndGlyphs">0.005</tspan></text>
<text class="s" font-size="76.5"><tspan x="147.9" y="4208.8" textLength="56" stroke-width="0" lengthAdjust="spacingAndGlyphs">−</tspan><tspan x="206.4" y="4203.6" textLength="164.6" lengthAdjust="spacingAndGlyphs">0.010</tspan></text>
<text class="s" font-size="76.5"><tspan x="147.9" y="4480.8" textLength="56" stroke-width="0" lengthAdjust="spacingAndGlyphs">−</tspan><tspan x="206.4" y="4475.6" textLength="164.6" lengthAdjust="spacingAndGlyphs">0.015</tspan></text>
<text class="s" font-size="77" transform="translate(93.6,4585.7) rotate(-90)"><tspan x="-0.5" y="0" textLength="342.2" lengthAdjust="spacingAndGlyphs">Derivative</tspan> <tspan x="359.0" y="0" textLength="65.3" lengthAdjust="spacingAndGlyphs">of</tspan> <tspan x="441.6" y="0" textLength="102.5" lengthAdjust="spacingAndGlyphs">the</tspan> <tspan x="561.4" y="0" textLength="234.1" lengthAdjust="spacingAndGlyphs">filtered</tspan> <tspan x="812.7" y="0" textLength="140.7" lengthAdjust="spacingAndGlyphs">sum</tspan></text>
<text class="s" font-size="76.5" x="379.3" y="4798.3" textLength="36.6" lengthAdjust="spacingAndGlyphs">0</text>
<text class="s" font-size="76.5" x="640.0" y="4798.3" textLength="109.7" lengthAdjust="spacingAndGlyphs">100</text>
<text class="s" font-size="76.5" x="937.2" y="4798.3" textLength="109.7" lengthAdjust="spacingAndGlyphs">200</text>
<text class="s" font-size="76.5" x="1234.5" y="4798.3" textLength="109.7" lengthAdjust="spacingAndGlyphs">300</text>
<text class="s" font-size="76.5" x="1531.7" y="4798.3" textLength="109.7" lengthAdjust="spacingAndGlyphs">400</text>
<text class="s" font-size="77" transform="translate(836.6,4903)"><tspan x="5.3" y="2.5" font-style="italic" font-size="80" textLength="29.8" lengthAdjust="spacingAndGlyphs">y</tspan> <tspan x="54.4" y="0" textLength="346.3" lengthAdjust="spacingAndGlyphs">coordinate</tspan> <tspan x="417.9" y="0" textLength="131.4" lengthAdjust="spacingAndGlyphs">(px)</tspan></text>
<path d="M787.0,4615.3 L787.0,658" fill="none" stroke="#0000ff" stroke-width="5.8" stroke-dasharray="21.962 21.962"/>
<path d="M1122.9,4615.3 L1122.9,658" fill="none" stroke="#0000ff" stroke-width="5.8" stroke-dasharray="21.962 21.962"/>
</svg></body></html>
